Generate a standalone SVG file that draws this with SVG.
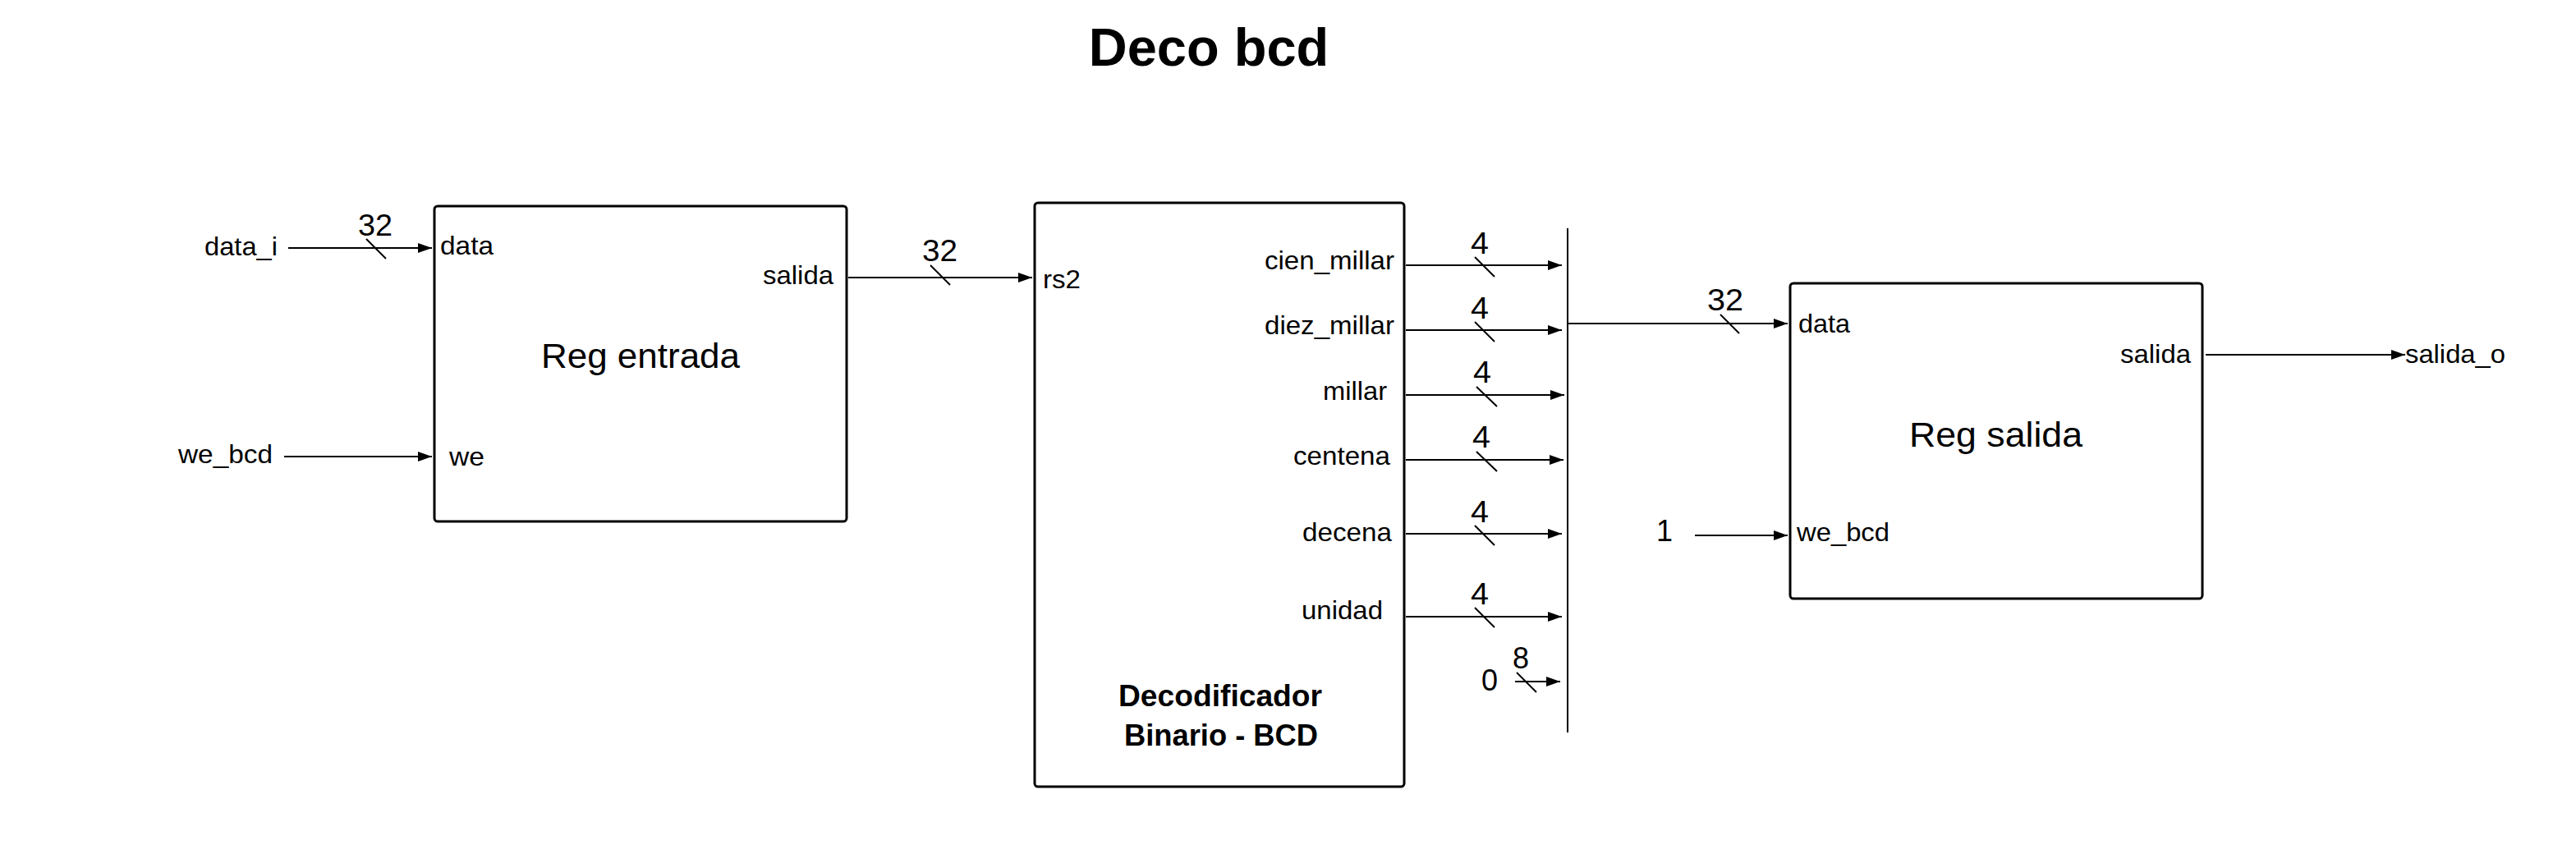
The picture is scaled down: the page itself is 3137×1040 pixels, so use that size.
<svg xmlns="http://www.w3.org/2000/svg" width="3137" height="1040" viewBox="0 0 3137 1040">
<defs>
<marker id="arr" markerUnits="userSpaceOnUse" markerWidth="18" markerHeight="12" refX="17" refY="6" orient="auto">
<path d="M0,0 L17,6 L0,12 z" fill="#000"/>
</marker>
<style>
.box{fill:#fff;stroke:#000;stroke-width:3}
.w{stroke:#000;stroke-width:2;fill:none}
.a{stroke:#000;stroke-width:2;fill:none;marker-end:url(#arr)}
text{font-family:"Liberation Sans",Arial,sans-serif;fill:#000}
.lb{font-size:32px}
.num{font-size:36px}
.big{font-size:43px}
.bold{font-size:36px;font-weight:bold}
.title{font-size:65px;font-weight:bold}
</style>
</defs>
<rect width="3137" height="1040" fill="#fff"/>
<text class="title" x="1472" y="80" text-anchor="middle">Deco bcd</text>

<g id="reg_entrada">
<rect class="box" x="529" y="251" width="502" height="384" rx="4"/>
<text class="lb" x="536" y="310" textLength="65" lengthAdjust="spacingAndGlyphs">data</text>
<text class="lb" x="929" y="346" textLength="86" lengthAdjust="spacingAndGlyphs">salida</text>
<text class="big" x="659" y="448" textLength="242" lengthAdjust="spacingAndGlyphs">Reg entrada</text>
<text class="lb" x="547" y="567" textLength="43" lengthAdjust="spacingAndGlyphs">we</text>
</g>

<g id="decodificador">
<rect class="box" x="1260" y="247" width="450" height="711" rx="4"/>
<text class="lb" x="1270" y="351" textLength="46" lengthAdjust="spacingAndGlyphs">rs2</text>
<text class="lb" x="1540" y="328" textLength="158" lengthAdjust="spacingAndGlyphs">cien_millar</text>
<text class="lb" x="1540" y="407" textLength="158" lengthAdjust="spacingAndGlyphs">diez_millar</text>
<text class="lb" x="1611" y="487" textLength="78" lengthAdjust="spacingAndGlyphs">millar</text>
<text class="lb" x="1575" y="566" textLength="118" lengthAdjust="spacingAndGlyphs">centena</text>
<text class="lb" x="1586" y="659" textLength="109" lengthAdjust="spacingAndGlyphs">decena</text>
<text class="lb" x="1585" y="754" textLength="99" lengthAdjust="spacingAndGlyphs">unidad</text>
<text class="bold" x="1486" y="860" text-anchor="middle" textLength="248" lengthAdjust="spacingAndGlyphs">Decodificador</text>
<text class="bold" x="1487" y="908" text-anchor="middle" textLength="236" lengthAdjust="spacingAndGlyphs">Binario - BCD</text>
</g>

<g id="reg_salida">
<rect class="box" x="2180" y="345" width="502" height="384" rx="4"/>
<text class="lb" x="2190" y="405" textLength="63" lengthAdjust="spacingAndGlyphs">data</text>
<text class="lb" x="2582" y="442" textLength="86" lengthAdjust="spacingAndGlyphs">salida</text>
<text class="big" x="2325" y="544" textLength="211" lengthAdjust="spacingAndGlyphs">Reg salida</text>
<text class="lb" x="2188" y="659" textLength="113" lengthAdjust="spacingAndGlyphs">we_bcd</text>
</g>

<g id="inputs">
<text class="lb" x="249" y="311" textLength="89" lengthAdjust="spacingAndGlyphs">data_i</text>
<text class="lb" x="217" y="564" textLength="115" lengthAdjust="spacingAndGlyphs">we_bcd</text>
<text class="num" x="2017" y="659">1</text>
<text class="num" x="1804" y="841">0</text>
</g>

<g id="output">
<text class="lb" x="2929" y="442" textLength="122" lengthAdjust="spacingAndGlyphs">salida_o</text>
</g>

<g id="connectors">
<line class="a" x1="351" y1="302" x2="526" y2="302"/>
<line class="a" x1="346" y1="556" x2="526" y2="556"/>
<line class="a" x1="1033" y1="338" x2="1257" y2="338"/>
<line class="a" x1="1712" y1="323" x2="1902" y2="323"/>
<line class="a" x1="1712" y1="402" x2="1902" y2="402"/>
<line class="a" x1="1712" y1="481" x2="1905" y2="481"/>
<line class="a" x1="1712" y1="560" x2="1904" y2="560"/>
<line class="a" x1="1712" y1="650" x2="1902" y2="650"/>
<line class="a" x1="1712" y1="751" x2="1902" y2="751"/>
<line class="a" x1="1845" y1="830" x2="1900" y2="830"/>
<line class="w" x1="1909" y1="278" x2="1909" y2="892"/>
<line class="a" x1="1909" y1="394" x2="2177" y2="394"/>
<line class="a" x1="2064" y1="652" x2="2177" y2="652"/>
<line class="a" x1="2686" y1="432" x2="2929" y2="432"/>
<g id="bus_widths">
<line class="w" x1="446" y1="291" x2="470" y2="315"/>
<text class="num" x="436" y="287" textLength="42" lengthAdjust="spacingAndGlyphs">32</text>
<line class="w" x1="1133" y1="323" x2="1157" y2="347"/>
<text class="num" x="1123" y="318" textLength="43" lengthAdjust="spacingAndGlyphs">32</text>
<line class="w" x1="1796" y1="313" x2="1820" y2="337"/>
<text class="num" x="1791" y="309" textLength="22" lengthAdjust="spacingAndGlyphs">4</text>
<line class="w" x1="1796" y1="392" x2="1820" y2="416"/>
<text class="num" x="1791" y="388" textLength="22" lengthAdjust="spacingAndGlyphs">4</text>
<line class="w" x1="1798" y1="471" x2="1823" y2="495"/>
<text class="num" x="1794" y="466" textLength="22" lengthAdjust="spacingAndGlyphs">4</text>
<line class="w" x1="1798" y1="550" x2="1823" y2="574"/>
<text class="num" x="1793" y="545" textLength="22" lengthAdjust="spacingAndGlyphs">4</text>
<line class="w" x1="1796" y1="640" x2="1820" y2="664"/>
<text class="num" x="1791" y="636" textLength="22" lengthAdjust="spacingAndGlyphs">4</text>
<line class="w" x1="1796" y1="740" x2="1820" y2="764"/>
<text class="num" x="1791" y="736" textLength="22" lengthAdjust="spacingAndGlyphs">4</text>
<line class="w" x1="1847" y1="819" x2="1871" y2="843"/>
<text class="num" x="1842" y="814">8</text>
<line class="w" x1="2095" y1="383" x2="2118" y2="406"/>
<text class="num" x="2079" y="378" textLength="44" lengthAdjust="spacingAndGlyphs">32</text>
</g>
</g>
</svg>
